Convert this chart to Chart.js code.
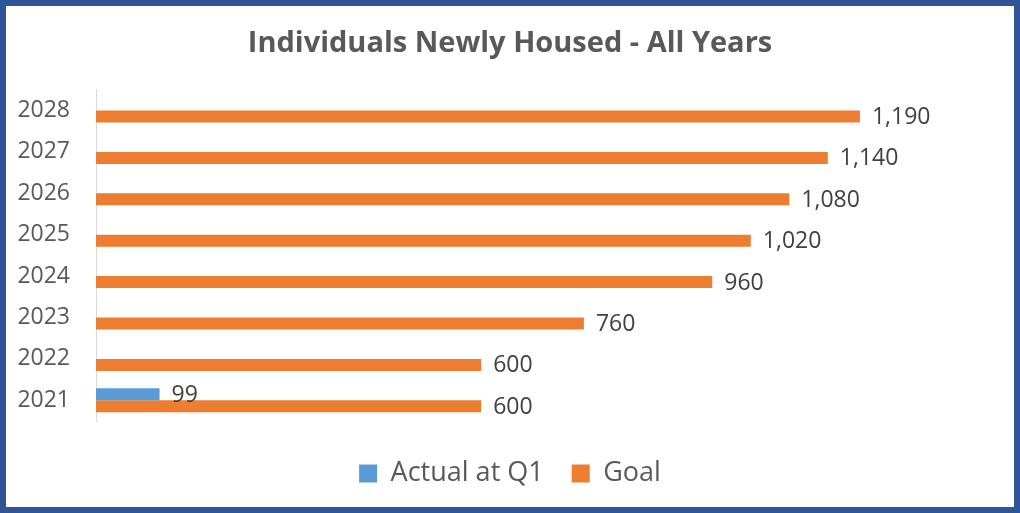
<!DOCTYPE html>
<html>
<head>
<meta charset="utf-8">
<script src="https://cdn.jsdelivr.net/npm/chart.js@4/dist/chart.umd.min.js"></script>
<style>
    html, body { margin: 0; padding: 0; background: #fff; }
    #frame {
        width: 1020px;
        height: 513px;
        box-sizing: border-box;
        border: 6px solid #2F5597;
        background: #fff;
    }
    canvas { display: block; }
</style>
</head>
<body>
<div id="frame">
    <canvas id="housedChart" width="1008" height="501"></canvas>
</div>
<script>
// Chart data (top to bottom as drawn)
const years = ['2028', '2027', '2026', '2025', '2024', '2023', '2022', '2021'];
const actualQ1 = [null, null, null, null, null, null, null, 99];
const goal = [1190, 1140, 1080, 1020, 960, 760, 600, 600];

const FONT = '"Open Sans", "DejaVu Sans", sans-serif';

// Draws the value next to the end of each bar
const barLabels = {
    id: 'barLabels',
    afterDatasetsDraw(chart) {
        const ctx = chart.ctx;
        ctx.save();
        ctx.font = '23px ' + FONT;
        ctx.fillStyle = '#404040';
        ctx.textAlign = 'left';
        ctx.textBaseline = 'middle';
        chart.data.datasets.forEach(function(ds, i) {
            chart.getDatasetMeta(i).data.forEach(function(bar, j) {
                const v = ds.data[j];
                if (v == null) return;
                ctx.fillText(v.toLocaleString('en-US'), bar.x + 12, bar.y + 1);
            });
        });
        ctx.restore();
    }
};

const ctx = document.getElementById('housedChart').getContext('2d');
new Chart(ctx, {
    type: 'bar',
    data: {
        labels: years,
        datasets: [{
            label: 'Actual at Q1',
            data: actualQ1,
            backgroundColor: '#5B9BD5',
            borderWidth: 0
        }, {
            label: 'Goal',
            data: goal,
            backgroundColor: '#ED7D31',
            borderWidth: 0
        }]
    },
    options: {
        indexAxis: 'y',
        responsive: false,
        animation: false,
        devicePixelRatio: 1,
        categoryPercentage: 0.58,
        barPercentage: 1,
        layout: {
            padding: { left: 0, right: 0, top: 0, bottom: 10 }
        },
        plugins: {
            title: {
                display: true,
                text: 'Individuals Newly Housed - All Years',
                color: '#595959',
                font: { family: FONT, size: 29, weight: 'bold' },
                padding: { top: 20, bottom: 29 }
            },
            legend: {
                position: 'bottom',
                labels: {
                    color: '#595959',
                    font: { family: FONT, size: 27 },
                    boxWidth: 18,
                    boxHeight: 18,
                    padding: 28
                }
            },
            tooltip: { enabled: false }
        },
        scales: {
            x: {
                // hidden axis, only keeps a gap above the legend
                display: true,
                min: 0,
                max: 1430,
                ticks: { display: false },
                grid: { display: false, drawTicks: false },
                border: { display: false },
                afterFit: function(scale) {
                    scale.height = 11;
                }
            },
            y: {
                grid: { display: false, drawTicks: false },
                border: { display: true, color: '#D9D9D9', width: 1 },
                ticks: {
                    color: '#595959',
                    font: { family: FONT, size: 23 },
                    padding: 26
                },
                afterFit: function(scale) {
                    scale.width = 90;
                }
            }
        }
    },
    plugins: [barLabels]
});
</script>
</body>
</html>
